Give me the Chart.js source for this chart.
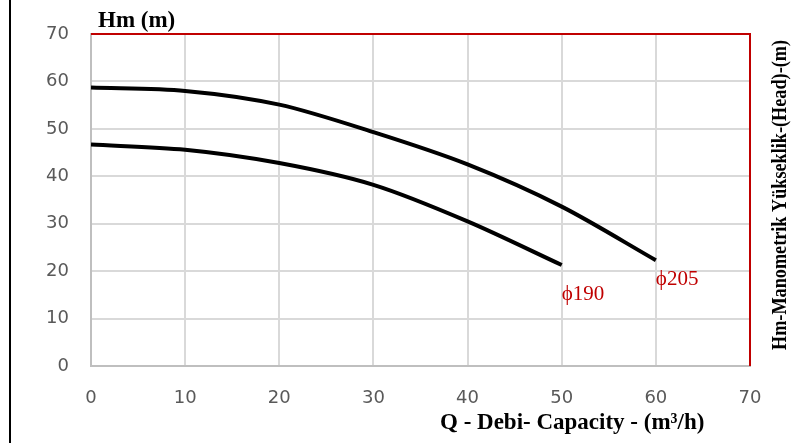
<!DOCTYPE html>
<html>
  <head>
    <meta charset="utf-8">
    <title>Hm - Q</title>
    <script src="https://cdn.jsdelivr.net/npm/chart.js"></script>
    <style>
      body { margin: 0; background: #fff; }
      #wrap { width: 802px; height: 443px; position: relative; }
    </style>
  </head>
  <body>
    <div id="wrap"><canvas id="myChart"></canvas></div>
    <script>
      // debi (m3/h) ve basma yüksekliği (m)
      const q205 = [0, 10, 20, 30, 40, 50, 60];
      const hm205 = [58.7, 58.0, 55.1, 49.3, 42.5, 33.6, 22.3];
      const q190 = [0, 10, 20, 30, 40, 50];
      const hm190 = [46.7, 45.6, 42.8, 38.2, 30.5, 21.3];
      const xTicks = [0, 10, 20, 30, 40, 50, 60, 70];
      const yTicks = [0, 10, 20, 30, 40, 50, 60, 70];

      // çark etiketleri
      const curveLabels = [
        { text: 'ϕ190', x: 50, y: 14.0 },
        { text: 'ϕ205', x: 60, y: 17.0 }
      ];

      const toPoints = (xs, ys) => xs.map((x, i) => ({ x: x, y: ys[i] }));

      const extras = {
        id: 'extras',
        afterDraw(chart) {
          const ctx = chart.ctx;
          const a = chart.chartArea;
          const xs = chart.scales.x, ys = chart.scales.y;
          ctx.save();
          // sol siyah çizgi
          ctx.strokeStyle = '#000';
          ctx.lineWidth = 2;
          ctx.beginPath();
          ctx.moveTo(10, 0);
          ctx.lineTo(10, 443);
          ctx.stroke();
          // kırmızı çerçeve
          ctx.strokeStyle = '#c00000';
          ctx.lineWidth = 2;
          ctx.beginPath();
          ctx.moveTo(a.left, a.top);
          ctx.lineTo(a.right, a.top);
          ctx.lineTo(a.right, a.bottom);
          ctx.stroke();
          // başlıklar
          ctx.fillStyle = '#000';
          ctx.textBaseline = 'alphabetic';
          ctx.textAlign = 'left';
          ctx.font = 'bold 23px "Liberation Serif"';
          ctx.fillText('Hm (m)', 98, 27);
          ctx.font = 'bold 23px "Liberation Serif"';
          ctx.fillText('Q - Debi- Capacity - (m³/h)', 440, 429);
          ctx.save();
          ctx.translate(786, 195);
          ctx.rotate(-Math.PI / 2);
          ctx.textAlign = 'center';
          ctx.font = 'bold 20px "Liberation Serif"';
          const t = 'Hm-Manometrik Yükseklik-(Head)-(m)';
          const w = ctx.measureText(t).width;
          ctx.scale(310 / w, 1);
          ctx.fillText(t, 0, 0);
          ctx.restore();
          // kırmızı etiketler
          ctx.fillStyle = '#c00000';
          ctx.font = '21px "Liberation Serif"';
          ctx.textAlign = 'left';
          curveLabels.forEach(l => {
            ctx.fillText(l.text, xs.getPixelForValue(l.x), ys.getPixelForValue(l.y));
          });
          ctx.restore();
        }
      };

      const tickFont = { family: 'DejaVu Sans', size: 18 };

      const ctx = document.getElementById('myChart').getContext('2d');
      new Chart(ctx, {
        type: 'line',
        data: {
          datasets: [
            { label: 'ϕ205', data: toPoints(q205, hm205) },
            { label: 'ϕ190', data: toPoints(q190, hm190) }
          ]
        },
        options: {
          responsive: true,
          maintainAspectRatio: false,
          animation: false,
          layout: { padding: { top: 34, right: 52, left: 0, bottom: 0 } },
          elements: {
            line: { borderColor: '#000', borderWidth: 4, tension: 0.3, fill: false },
            point: { radius: 0 }
          },
          plugins: { legend: { display: false }, tooltip: { enabled: false } },
          scales: {
            x: {
              type: 'linear',
              min: 0, max: 70,
              afterBuildTicks: s => { s.ticks = xTicks.map(v => ({ value: v })); },
              afterFit: s => { s.height = 77; },
              grid: { color: '#d9d9d9', lineWidth: 2, drawTicks: false },
              border: { color: '#bfbfbf', width: 2 },
              ticks: { color: '#595959', padding: 22, font: tickFont }
            },
            y: {
              min: 0, max: 70,
              afterBuildTicks: s => { s.ticks = yTicks.map(v => ({ value: v })); },
              afterFit: s => { s.width = 91; },
              grid: { color: '#d9d9d9', lineWidth: 2, drawTicks: false },
              border: { color: '#bfbfbf', width: 2 },
              ticks: { color: '#595959', padding: 22, font: tickFont }
            }
          }
        },
        plugins: [extras]
      });
    </script>
  </body>
</html>
